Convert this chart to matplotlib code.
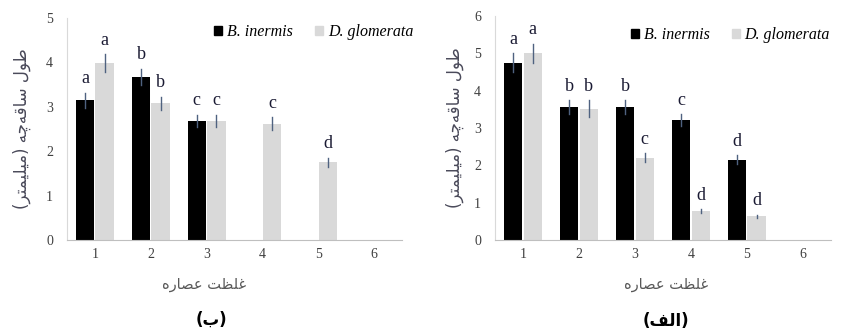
import matplotlib
matplotlib.use("Agg")
import matplotlib.pyplot as plt
import numpy as np
from matplotlib.patches import Patch

# Data
conc = ['1', '2', '3', '4', '5', '6']
species = ['B. inermis', 'D. glomerata']

# panel (ب)
b_inermis_b = [3.15, 3.68, 2.68, 0, 0, 0]
b_inermis_b_err = [0.17, 0.18, 0.14, 0, 0, 0]
d_glom_b = [3.98, 3.08, 2.68, 2.62, 1.75, 0]
d_glom_b_err = [0.2, 0.15, 0.14, 0.14, 0.1, 0]
letters_b_bi = ['a', 'b', 'c', '', '', '']
letters_b_dg = ['a', 'b', 'c', 'c', 'd', '']

# panel (الف)
b_inermis_a = [4.75, 3.56, 3.56, 3.21, 2.15, 0]
b_inermis_a_err = [0.25, 0.18, 0.18, 0.16, 0.12, 0]
d_glom_a = [5.0, 3.52, 2.2, 0.77, 0.63, 0]
d_glom_a_err = [0.25, 0.22, 0.12, 0.05, 0.05, 0]
letters_a_bi = ['a', 'b', 'b', 'c', 'd', '']
letters_a_dg = ['a', 'b', 'c', 'd', 'd', '']

ylabel = 'طول ساقه\u200cچه (میلیمتر)'
xlabel = 'غلظت عصاره'
cap_b = '(ب)'
cap_a = '(الف)'


# minimal Arabic/Persian shaping (matplotlib has no shaping of its own)
FORMS = {
    'ا': (0xFE8D, 0xFE8E), 'ر': (0xFEAD, 0xFEAE), 'و': (0xFEED, 0xFEEE),
    'ب': (0xFE8F, 0xFE90, 0xFE91, 0xFE92), 'ت': (0xFE95, 0xFE96, 0xFE97, 0xFE98),
    'س': (0xFEB1, 0xFEB2, 0xFEB3, 0xFEB4), 'ص': (0xFEB9, 0xFEBA, 0xFEBB, 0xFEBC),
    'ط': (0xFEC1, 0xFEC2, 0xFEC3, 0xFEC4), 'ظ': (0xFEC5, 0xFEC6, 0xFEC7, 0xFEC8),
    'ع': (0xFEC9, 0xFECA, 0xFECB, 0xFECC), 'غ': (0xFECD, 0xFECE, 0xFECF, 0xFED0),
    'ف': (0xFED1, 0xFED2, 0xFED3, 0xFED4), 'ق': (0xFED5, 0xFED6, 0xFED7, 0xFED8),
    'ل': (0xFEDD, 0xFEDE, 0xFEDF, 0xFEE0), 'م': (0xFEE1, 0xFEE2, 0xFEE3, 0xFEE4),
    'ه': (0xFEE9, 0xFEEA, 0xFEEB, 0xFEEC), 'ی': (0xFBFC, 0xFBFD, 0xFBFE, 0xFBFF),
    'چ': (0xFB7A, 0xFB7B, 0xFB7C, 0xFB7D),
}
MIRROR = {'(': ')', ')': '('}


def shape(s):
    out = []
    for i, ch in enumerate(s):
        if ch not in FORMS:
            if ch != '\u200c':
                out.append(MIRROR.get(ch, ch))
            continue
        prev = s[i - 1] if i > 0 else ''
        nxt = s[i + 1] if i + 1 < len(s) else ''
        f = FORMS[ch]
        join_prev = prev in FORMS and len(FORMS[prev]) == 4
        join_next = len(f) == 4 and nxt in FORMS
        if join_prev and join_next:
            out.append(chr(f[3]))
        elif join_prev:
            out.append(chr(f[1]))
        elif join_next:
            out.append(chr(f[2]))
        else:
            out.append(chr(f[0]))
    return ''.join(out[::-1])


serif = 'Liberation Serif'
black = '#000000'
grey = '#d9d9d9'
errc = '#4f6280'


def draw(ax, bi, bi_err, dg, dg_err, let_bi, let_dg, ymax, cap,
         lab_x, cap_x, leg_x, leg_y, ylab_x):
    x = np.arange(len(conc))
    w = 0.33
    ax.bar(x - w / 2 - 0.01, bi, w, color=black, zorder=2)
    ax.bar(x + w / 2 + 0.01, dg, w, color=grey, zorder=2)
    for xs, vals, errs, lets in [(x - w / 2 - 0.01, bi, bi_err, let_bi),
                                 (x + w / 2 + 0.01, dg, dg_err, let_dg)]:
        for xi, v, e, l in zip(xs, vals, errs, lets):
            if v == 0:
                continue
            ax.plot([xi, xi], [v - e, v + e], color=errc, lw=1, zorder=3)
            ax.annotate(l, (xi, v + e), xytext=(0, 4), textcoords='offset points',
                        ha='center', va='bottom', fontsize=13, family=serif,
                        color='#1a1a33')
    ax.set_xlim(-0.5, len(conc) - 0.5)
    ax.set_ylim(0, ymax)
    ax.set_yticks(range(ymax + 1))
    ax.set_xticks(x)
    ax.set_xticklabels(conc)
    ax.tick_params(length=0, labelsize=10, labelcolor='#404040', pad=6)
    for t in ax.get_xticklabels() + ax.get_yticklabels():
        t.set_family(serif)
    ax.tick_params(axis='y', pad=10)
    for s in ['top', 'right']:
        ax.spines[s].set_visible(False)
    ax.spines['left'].set_color('#d9d9d9')
    ax.spines['bottom'].set_color('#bfbfbf')
    ax.text(ylab_x, 0.5, shape(ylabel), transform=ax.transAxes, rotation=90,
            ha='center', va='center', family='DejaVu Sans', fontsize=12,
            color='#4a4a5a')
    ax.text(lab_x, -0.2, shape(xlabel), transform=ax.transAxes, ha='center',
            va='center', family='DejaVu Sans', fontsize=10.5, color='#595959')
    handles = [Patch(color=black), Patch(color=grey)]
    ax.legend(handles, species, loc='upper left', bbox_to_anchor=(leg_x, leg_y),
              ncol=2, frameon=False, handlelength=0.5, handleheight=0.5,
              handletextpad=0.3, columnspacing=1.4, borderaxespad=0, borderpad=0.2,
              prop={'family': serif, 'style': 'italic', 'size': 11.5})
    ax.text(cap_x, -0.36, shape(cap), transform=ax.transAxes, ha='center',
            va='center', family='DejaVu Sans', fontsize=12, fontweight='bold')


fig = plt.figure(figsize=(8.44, 3.34), dpi=100)
ax_b = fig.add_axes([0.0794, 0.2814, 0.397, 0.665])
ax_a = fig.add_axes([0.5865, 0.2814, 0.398, 0.671])

draw(ax_b, b_inermis_b, b_inermis_b_err, d_glom_b, d_glom_b_err,
     letters_b_bi, letters_b_dg, 5, cap_b, 0.41, 0.43, 0.43, 0.985, -0.134)
draw(ax_a, b_inermis_a, b_inermis_a_err, d_glom_a, d_glom_a_err,
     letters_a_bi, letters_a_dg, 6, cap_a, 0.51, 0.51, 0.395, 0.965, -0.119)

fig.savefig('out.png', dpi=100)
